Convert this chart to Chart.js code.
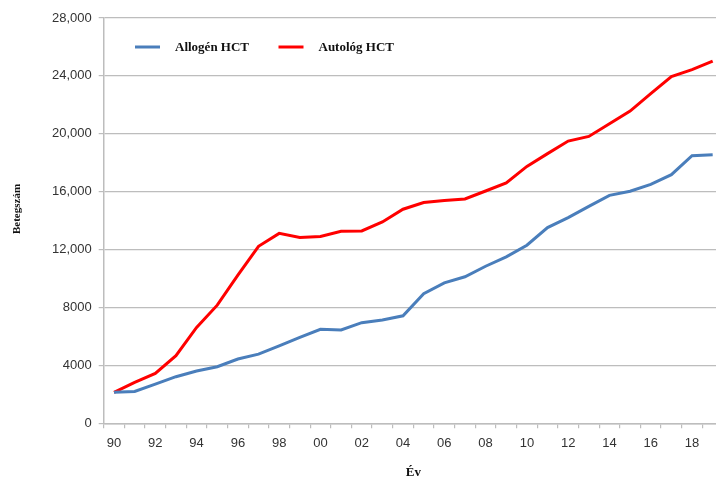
<!DOCTYPE html>
<html>
<head>
<meta charset="utf-8">
<script src="https://cdn.jsdelivr.net/npm/chart.js@4/dist/chart.umd.min.js"></script>
<style>
html,body{margin:0;padding:0;background:#fff;overflow:hidden;width:716px;height:480px;}
canvas{display:block;}
</style>
</head>
<body>
<canvas id="c" width="724" height="480"></canvas>
<script>
// ---- data ----
const years = ['90','91','92','93','94','95','96','97','98','99','00','01','02','03','04','05','06','07','08','09','10','11','12','13','14','15','16','17','18','19'];
const allogenHCT = [2140,2200,2710,3220,3610,3910,4440,4780,5350,5930,6490,6450,6950,7140,7430,8950,9700,10120,10850,11500,12300,13520,14210,14990,15750,16030,16510,17180,18490,18560];
const autologHCT = [2140,2830,3450,4670,6620,8160,10230,12230,13120,12830,12910,13260,13290,13910,14790,15250,15390,15500,16050,16600,17750,18630,19500,19820,20700,21570,22770,23960,24430,25020];
const seriesNames = ['Allogén HCT','Autológ HCT'];
const yTickValues = [0,4000,8000,12000,16000,20000,24000,28000];
const yTickLabels = ['0','4000','8000','12,000','16,000','20,000','24,000','28,000'];
const xTitle = 'Év';
const yTitle = 'Betegszám';

const legendPlugin = {
  id: 'insideLegend',
  afterDraw(chart, args, opts) {
    const ctx = chart.ctx;
    ctx.save();
    ctx.font = 'bold 13px "Liberation Serif", "Times New Roman", serif';
    ctx.textBaseline = 'middle';
    ctx.textAlign = 'left';
    chart.data.datasets.forEach((ds, i) => {
      const x = opts.x[i], y = opts.y;
      ctx.strokeStyle = ds.borderColor;
      ctx.lineWidth = 3;
      ctx.beginPath();
      ctx.moveTo(x, y);
      ctx.lineTo(x + 25, y);
      ctx.stroke();
      ctx.fillStyle = '#111';
      ctx.fillText(ds.label, x + 40, y + 0.5);
    });
    // y axis title
    ctx.translate(opts.yTitleX, opts.yTitleY);
    ctx.rotate(-Math.PI / 2);
    ctx.textAlign = 'center';
    ctx.font = 'bold 11px "Liberation Serif", "Times New Roman", serif';
    ctx.fillText(yTitle, 0, 0);
    ctx.restore();
  }
};

new Chart(document.getElementById('c'), {
  type: 'line',
  data: {
    labels: years,
    datasets: [
      { label: seriesNames[0], data: allogenHCT, borderColor: '#4a7ebb', backgroundColor: '#4a7ebb', borderWidth: 3, pointRadius: 0, tension: 0, fill: false },
      { label: seriesNames[1], data: autologHCT, borderColor: '#ff0000', backgroundColor: '#ff0000', borderWidth: 3, pointRadius: 0, tension: 0, fill: false }
    ]
  },
  options: {
    responsive: false,
    animation: false,
    events: [],
    layout: { padding: { top: 18, right: 1, bottom: 0, left: 0 } },
    plugins: {
      legend: { display: false },
      tooltip: { enabled: false },
      insideLegend: { x: [135, 278.5], y: 47, yTitleX: 17.5, yTitleY: 209 }
    },
    scales: {
      x: {
        type: 'category',
        offset: true,
        afterFit(scale) { scale.height = 56.7; },
        grid: { display: true, drawOnChartArea: false, drawTicks: true, tickLength: 5, color: '#bdbdbd', lineWidth: 1.2, offset: true },
        border: { display: true, color: '#bdbdbd', width: 1.5 },
        ticks: {
          autoSkip: false, maxRotation: 0, minRotation: 0, padding: 7,
          color: '#333', font: { family: '"Liberation Sans", Arial, sans-serif', size: 13 },
          callback(v, i) { return i % 2 === 0 ? years[i] : ''; }
        },
        title: {
          display: true, text: xTitle, color: '#111',
          font: { family: '"Liberation Serif", "Times New Roman", serif', size: 13, weight: 'bold' },
          padding: { top: 0, bottom: 0 }
        }
      },
      y: {
        min: 0, max: 28000,
        afterFit(scale) { scale.width = 103.7; },
        afterBuildTicks(scale) { scale.ticks = yTickValues.map(v => ({ value: v })); },
        grid: { color: '#bdbdbd', lineWidth: 1.2, drawTicks: true, tickLength: 5 },
        border: { display: true, color: '#bdbdbd', width: 1.5 },
        ticks: {
          padding: 7, color: '#333', font: { family: '"Liberation Sans", Arial, sans-serif', size: 13 },
          callback(v) { const k = yTickValues.indexOf(v); return k >= 0 ? yTickLabels[k] : ''; }
        },
        title: { display: false }
      }
    }
  },
  plugins: [legendPlugin]
});
</script>
</body>
</html>
